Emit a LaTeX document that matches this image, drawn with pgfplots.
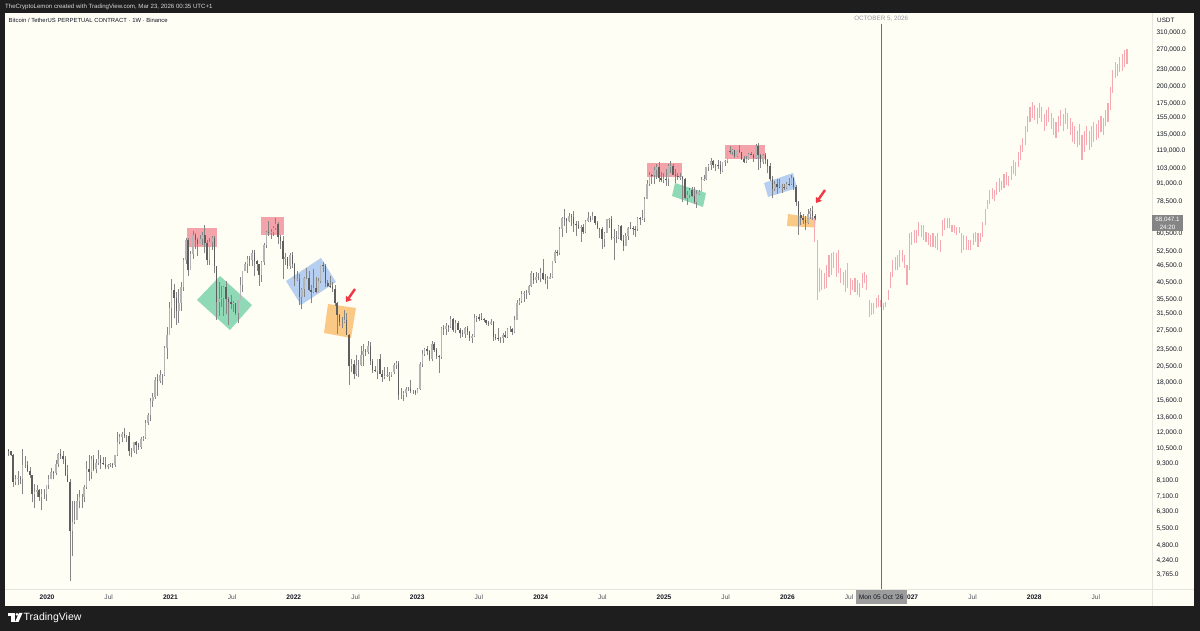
\documentclass[border=0pt]{standalone}
\usepackage{fontspec}
\setmainfont{Liberation Sans}
\usepackage{pgfplots}
\usepackage{pgfplotstable}
\pgfplotsset{compat=1.18}
\usetikzlibrary{arrows.meta}
\definecolor{frame}{HTML}{1E1E1E}
\definecolor{cream}{HTML}{FFFEF5}
\definecolor{wick}{HTML}{858585}
\definecolor{downc}{HTML}{5E5E5E}
\definecolor{upc}{HTML}{B4B4B4}
\definecolor{pinkbar}{HTML}{F5AAB2}
\definecolor{boxred}{HTML}{F4A3AA}
\definecolor{boxgreen}{HTML}{8FD9B6}
\definecolor{boxblue}{HTML}{B6CEF0}
\definecolor{boxorange}{HTML}{FAC985}
\definecolor{arrowred}{HTML}{F23645}
\definecolor{txt}{HTML}{131722}
\definecolor{julc}{HTML}{50535E}
\definecolor{sep}{HTML}{E6E6E0}
\definecolor{octline}{HTML}{707070}
\definecolor{graytxt}{HTML}{9598A1}
\definecolor{datebox}{HTML}{9C9C9C}
\definecolor{pricebox}{HTML}{858585}
\newcommand\tvf{\fontsize{6.6}{7.5}\selectfont}
\pgfplotstableread{
o h l c
10.4 10.5 9.9 10.3
10.3 10.3 9.9 10.0
10.0 10.1 7.7 8.0
8.0 8.5 7.8 8.2
8.2 8.8 7.8 8.3
8.3 8.4 7.9 8.2
8.2 10.5 7.3 9.2
9.2 9.9 9.0 9.2
9.2 9.5 8.7 8.8
8.8 9.1 8.3 8.5
8.5 8.5 6.8 7.3
7.3 7.9 6.5 7.4
7.4 7.8 7.1 7.5
7.5 7.6 6.9 7.1
7.1 7.6 6.4 7.3
7.3 7.6 7.0 7.3
7.3 7.8 6.9 7.8
7.8 8.5 7.6 8.2
8.2 9.0 8.2 8.7
8.7 8.8 8.2 8.6
8.6 9.6 8.5 9.3
9.3 10.2 9.1 10.1
10.1 10.5 9.7 9.9
9.9 10.3 9.3 9.7
9.7 9.9 8.4 8.5
8.5 9.2 8.0 8.0
8.0 8.2 3.6 5.4
5.4 6.9 4.4 5.8
5.8 6.9 5.7 5.9
5.9 7.3 5.9 6.9
6.9 7.5 6.5 7.1
7.1 7.3 6.5 7.1
7.1 7.8 6.8 7.7
7.7 9.5 7.6 8.9
8.9 10.0 8.1 8.7
8.7 9.9 8.2 9.7
9.7 10.0 8.8 8.9
8.9 9.7 8.6 9.4
9.4 10.4 9.2 9.7
9.7 10.0 8.9 9.4
9.4 9.8 9.2 9.3
9.3 9.8 8.9 9.1
9.1 9.3 8.9 9.2
9.2 9.4 9.1 9.3
9.3 9.4 9.0 9.2
9.2 10.0 9.1 10.0
10.0 12.1 9.9 11.1
11.1 11.9 10.9 11.6
11.6 12.1 11.1 11.9
11.9 12.5 11.5 11.7
11.7 11.8 11.1 11.7
11.7 12.1 9.9 10.3
10.3 10.6 9.8 10.3
10.3 11.1 10.2 11.1
11.1 11.2 10.1 10.8
10.8 11.0 10.4 10.7
10.7 11.6 10.5 11.4
11.4 11.7 11.2 11.5
11.5 13.3 11.4 13.0
13.0 14.1 12.8 13.8
13.8 15.9 13.2 15.5
15.5 16.5 14.8 16.0
16.0 18.8 15.8 18.4
18.4 19.4 16.2 18.2
18.2 19.9 18.0 19.2
19.2 19.4 17.6 19.2
19.2 24.3 19.0 23.8
23.8 28.4 21.8 26.5
26.5 34.8 26.5 33.0
33.0 42.0 28.0 38.2
38.2 40.1 30.4 35.8
35.8 37.8 28.8 32.3
32.3 38.5 29.2 34.3
34.3 40.9 32.3 39.2
39.2 49.7 37.9 48.9
48.9 58.3 47.1 57.5
57.5 58.3 43.0 45.2
45.2 52.6 45.0 51.2
51.2 61.8 49.3 59.9
59.9 60.6 53.3 57.4
57.4 58.4 50.4 55.8
55.8 60.1 55.5 58.0
58.0 61.2 55.4 60.0
60.0 64.9 51.5 56.2
56.2 57.3 47.0 49.0
49.0 58.5 47.0 56.6
56.6 59.5 53.0 58.2
58.2 59.6 43.8 46.4
46.4 46.6 30.0 34.7
34.7 40.8 31.0 35.6
35.6 39.4 33.4 35.8
35.8 39.5 31.0 39.1
39.1 41.3 31.6 35.5
35.5 36.1 28.8 34.7
34.7 36.6 32.7 34.1
34.1 35.1 32.1 34.3
34.3 34.3 31.2 31.8
31.8 35.4 29.3 35.4
35.4 42.6 35.2 39.8
39.8 44.7 37.6 44.5
44.5 48.1 44.5 47.1
47.1 50.5 44.0 49.3
49.3 50.5 46.4 48.9
48.9 52.9 46.5 51.8
51.8 52.9 43.0 48.3
48.3 48.8 44.8 47.3
47.3 47.3 39.6 43.2
43.2 48.4 40.8 48.2
48.2 56.0 46.9 55.0
55.0 62.0 53.9 61.5
61.5 67.0 59.5 60.9
60.9 63.0 57.9 61.3
61.3 64.2 59.4 63.2
63.2 69.0 62.3 65.5
65.5 66.3 55.6 59.0
59.0 59.7 53.3 57.2
57.2 59.2 42.0 49.4
49.4 51.9 46.9 50.1
50.1 50.2 45.5 46.7
46.7 51.9 45.5 50.8
50.8 52.1 45.7 47.3
47.3 47.5 39.6 41.9
41.9 44.5 41.2 42.0
42.0 43.5 34.0 36.3
36.3 38.9 32.9 38.5
38.5 42.6 36.3 42.2
42.2 45.8 41.8 42.2
42.2 44.7 38.1 38.4
38.4 39.8 34.3 37.7
37.7 45.4 37.5 38.8
38.8 42.6 37.2 37.8
37.8 42.3 37.6 41.3
41.3 46.9 40.5 46.8
46.8 48.2 44.2 46.4
46.4 47.4 39.2 40.4
40.4 41.5 39.2 39.7
39.7 42.9 39.0 39.4
39.4 40.8 37.6 38.5
38.5 40.0 33.7 34.3
34.3 34.8 26.7 31.3
31.3 31.4 28.6 29.4
29.4 30.6 28.0 29.4
29.4 32.4 29.2 29.9
29.9 31.8 26.5 26.6
26.6 26.8 17.6 20.6
20.6 21.9 19.6 21.0
21.0 21.6 18.6 19.3
19.3 22.5 19.0 20.8
20.8 21.6 18.9 20.8
20.8 24.3 20.7 22.6
22.6 24.7 20.7 23.3
23.3 23.6 22.4 23.2
23.2 25.2 22.7 24.3
24.3 25.0 20.8 21.5
21.5 21.9 19.5 20.0
20.0 20.6 19.6 19.8
19.8 21.9 18.5 21.8
21.8 22.8 19.3 19.4
19.4 19.9 18.1 18.8
18.8 20.4 18.5 19.0
19.0 20.5 18.9 19.1
19.1 19.6 18.2 19.2
19.2 19.7 18.9 19.6
19.6 21.1 19.3 20.8
20.8 21.5 20.1 21.1
21.1 21.5 15.6 16.3
16.3 17.2 15.8 16.3
16.3 16.8 15.5 16.5
16.5 17.4 16.0 17.1
17.1 17.4 16.8 17.1
17.1 18.4 16.5 16.8
16.8 17.0 16.4 16.8
16.8 17.0 16.3 16.6
16.6 17.2 16.5 17.1
17.1 21.3 17.0 20.9
20.9 23.4 20.4 22.7
22.7 23.8 22.3 23.7
23.7 24.2 22.5 23.3
23.3 23.4 21.4 21.8
21.8 25.2 21.4 24.6
24.6 25.1 23.1 23.5
23.5 23.9 21.9 22.4
22.4 22.6 19.5 22.1
22.1 28.4 21.9 28.0
28.0 28.9 26.6 27.9
27.9 29.2 26.5 28.5
28.5 28.8 27.2 28.3
28.3 31.0 28.2 30.3
30.3 30.5 27.1 27.6
27.6 30.0 26.9 29.2
29.2 29.8 27.7 27.7
27.7 28.0 25.8 26.9
26.9 27.6 26.1 26.7
26.7 28.4 25.9 28.0
28.0 28.5 26.6 27.1
27.1 27.4 25.3 25.9
25.9 26.8 24.8 26.3
26.3 31.4 26.2 30.5
30.5 31.0 29.5 30.6
30.6 31.5 29.7 30.3
30.3 31.8 29.9 30.2
30.2 30.4 29.5 29.9
29.9 30.0 28.9 29.3
29.3 29.7 28.6 29.0
29.0 30.2 28.7 29.4
29.4 29.7 25.2 26.1
26.1 26.8 25.4 26.0
26.0 28.2 25.3 25.8
25.8 26.1 24.9 25.8
25.8 27.0 24.9 26.5
26.5 27.5 26.0 26.2
26.2 28.0 26.0 27.9
27.9 28.6 27.2 27.9
27.9 28.0 26.5 27.1
27.1 30.9 26.9 30.0
30.0 35.2 29.9 34.5
34.5 35.9 33.9 35.0
35.0 38.0 34.5 37.1
37.1 38.0 34.8 37.4
37.4 38.4 35.6 37.4
37.4 39.8 36.7 39.5
39.5 44.5 39.3 43.8
43.8 44.0 40.2 41.4
41.4 44.3 40.6 42.7
42.7 43.8 41.4 42.3
42.3 45.9 40.8 43.9
43.9 49.1 41.5 41.7
41.7 43.6 40.3 41.6
41.6 42.8 38.5 42.0
42.0 43.9 41.8 42.6
42.6 48.6 42.2 48.3
48.3 53.0 47.7 52.1
52.1 52.9 50.6 51.7
51.7 64.0 50.9 63.1
63.1 69.2 59.0 68.9
68.9 73.8 64.6 68.4
68.4 68.9 60.8 67.2
67.2 71.8 66.4 69.6
69.6 71.3 64.5 69.4
69.4 72.8 61.1 65.7
65.7 66.9 59.6 64.9
64.9 67.2 62.8 63.4
63.4 64.7 56.6 63.9
63.9 65.5 60.2 61.5
61.5 67.7 60.7 66.9
66.9 71.9 66.6 68.5
68.5 70.0 66.6 67.8
67.8 71.9 67.5 69.6
69.6 70.0 65.0 66.2
66.2 66.9 63.0 63.2
63.2 63.4 58.4 62.7
62.7 63.8 53.5 58.0
58.0 61.4 54.3 60.8
60.8 68.3 60.6 68.0
68.0 69.0 63.4 68.3
68.3 70.0 57.3 58.2
58.2 62.7 49.0 58.7
58.7 61.8 56.1 58.4
58.4 65.0 57.8 64.2
64.2 64.9 57.2 57.3
57.3 59.8 52.6 54.8
54.8 60.7 54.6 59.2
59.2 64.1 57.5 63.6
63.6 66.5 62.7 63.3
63.3 64.5 59.8 63.0
63.0 64.5 58.9 62.8
62.8 69.4 62.1 69.0
69.0 69.5 65.1 68.0
68.0 73.6 67.5 68.7
68.7 81.5 66.8 80.4
80.4 93.5 80.0 90.6
90.6 99.6 89.4 97.9
97.9 98.7 90.8 97.3
97.3 104.0 90.5 101.4
101.4 106.6 94.2 104.5
104.5 108.4 92.2 95.2
95.2 99.9 92.5 93.8
93.8 99.0 91.5 94.7
94.7 102.7 89.3 94.5
94.5 106.4 89.3 104.6
104.6 109.6 99.5 104.8
104.8 106.5 97.7 97.7
97.7 102.5 91.2 96.5
96.5 99.0 94.0 96.1
96.1 99.5 93.4 96.2
96.2 96.5 78.2 94.3
94.3 95.0 80.0 80.7
80.7 85.3 76.6 82.6
82.6 87.5 81.2 86.0
86.0 88.8 81.6 82.4
82.4 88.5 77.1 78.4
78.4 86.1 74.5 83.7
83.7 86.4 83.0 85.2
85.2 95.8 85.1 93.7
93.7 97.9 92.8 94.2
94.2 104.3 93.4 104.1
104.1 106.7 100.7 106.0
106.0 112.0 102.0 109.0
109.0 110.5 103.1 105.6
105.6 106.8 100.4 105.6
105.6 110.4 102.6 105.5
105.5 108.9 98.2 100.9
100.9 108.5 99.6 108.4
108.4 110.5 105.1 109.2
109.2 119.0 107.5 119.0
119.0 123.2 115.7 117.3
117.3 120.2 114.7 119.4
119.4 119.8 111.9 114.2
114.2 119.3 112.6 119.3
119.3 124.5 116.8 117.4
117.4 117.6 110.6 111.2
111.2 113.5 107.3 108.2
108.2 113.4 107.3 111.2
111.2 116.8 110.6 115.3
115.3 117.9 114.4 115.2
115.2 115.4 108.6 112.2
112.2 125.7 111.3 123.5
123.5 126.2 102.0 115.0
115.0 115.9 103.5 108.7
108.7 116.0 106.6 114.5
114.5 116.4 106.3 110.6
110.6 110.8 98.9 104.7
104.7 107.5 93.0 94.2
94.2 96.6 80.6 86.8
86.8 93.0 85.3 90.4
90.4 94.2 83.8 88.4
88.4 94.6 87.5 88.2
88.2 90.3 84.4 88.4
88.4 90.6 86.4 87.8
87.8 91.8 86.8 90.6
90.6 94.8 89.3 90.5
90.5 97.9 90.0 95.0
95.0 96.0 86.0 88.5
88.5 90.0 76.0 78.5
78.5 79.0 60.0 70.5
70.5 72.0 65.0 68.5
68.5 71.0 65.5 67.5
67.5 70.0 62.5 66.0
66.0 74.0 65.5 71.0
71.0 74.5 68.0 72.5
72.5 76.0 67.5 70.0
70.0 71.0 67.8 68.05
}\candles
\pgfplotstableread{
h l
68.8 56.6
57.5 35.3
45.8 37.7
45.0 38.3
44.0 38.6
46.9 39.0
50.9 42.6
51.7 43.3
52.2 45.8
51.7 42.6
53.0 44.0
45.8 40.5
44.3 39.9
45.0 37.7
47.7 39.0
42.2 36.7
41.5 38.3
42.2 37.7
41.5 36.7
40.5 36.1
44.0 39.0
44.3 40.5
43.3 38.3
35.3 30.7
34.4 31.2
34.4 31.6
35.9 33.1
36.7 33.4
35.3 33.4
34.4 32.5
34.7 33.4
38.3 35.3
44.3 39.0
48.8 42.6
50.0 45.0
50.9 45.0
53.0 46.1
53.0 48.0
50.9 45.8
46.9 39.9
60.9 45.0
61.4 55.2
62.4 56.0
62.4 56.0
66.5 59.2
64.9 58.7
64.9 57.5
61.4 56.6
60.9 55.2
59.9 54.3
60.9 54.3
59.2 53.9
60.9 53.0
57.5 52.2
67.7 59.2
68.8 62.4
68.8 63.4
68.8 63.4
64.9 61.4
64.9 60.9
63.9 59.9
63.9 60.9
60.9 51.7
59.9 53.0
59.2 53.0
57.5 53.0
57.5 53.0
60.9 55.2
61.4 56.6
60.9 54.3
60.9 56.6
66.5 58.7
74.2 64.9
79.6 74.2
86 77
88 80
86 79
92 83
95 85
93 86
98 88
100 90
97 89
105 94
110 98
108 97
118 104
125 110
132 118
145 125
158 138
170 150
176 155
172 152
168 148
175 155
170 150
160 140
165 145
170 150
162 142
155 135
150 132
158 138
165 145
160 140
168 148
162 142
155 135
150 128
145 126
140 122
148 125
135 110
140 118
145 125
140 120
145 122
150 128
148 130
152 132
158 138
155 135
165 145
175 150
200 165
230 190
245 215
240 218
255 225
262 228
270 235
272 240
}\proj
\begin{document}
\begin{tikzpicture}
\fill[frame] (0pt,0pt) rectangle (1200pt,631pt);
\begin{scope}[x=1pt, y=-1pt, yshift=631pt]
\fill[cream] (5,13) rectangle (1194,606);
\draw[sep, line width=0.6pt] (5,589) -- (1194,589);
\draw[sep, line width=0.6pt] (1152,13) -- (1152,606);
\fill[boxred] (187,228) rectangle (217,247);
\fill[boxred] (261,217) rectangle (284,235);
\fill[boxgreen] (197,300) -- (220,276) -- (252,305) -- (230,330) -- cycle;
\fill[boxblue] (286,281) -- (321,258) -- (336,282) -- (301,305) -- cycle;
\fill[boxorange] (328,304) -- (356,308) -- (351,338) -- (324,333) -- cycle;
\fill[boxred] (647,163) rectangle (682,177);
\fill[boxgreen] (675,183) -- (706,193) -- (703,207) -- (672,196) -- cycle;
\fill[boxred] (725,145) rectangle (765,159);
\fill[boxblue] (764,183) -- (793,173) -- (797,188) -- (768,197) -- cycle;
\fill[boxorange] (788,214) -- (816,218) -- (815,227.5) -- (787,226) -- cycle;
\end{scope}
\begin{axis}[
  at={(5pt,42pt)}, anchor=south west,
  width=1147pt, height=576pt, scale only axis,
  xmin=2019.6596, xmax=2028.9546,
  ymode=log, ymin=3.360, ymax=364.5,
  axis line style={draw=none},
  tick style={draw=none},
  major tick length=0pt,
  yticklabel pos=right,
  ytick={3.765,4.24,4.8,5.5,6.3,7.1,8.1,9.3,10.5,12,13.6,15.6,18,20.5,23.5,27.5,31.5,35.5,40.5,46.5,52.5,60.5,78.5,91,103,119,135,155,175,200,230,270,310},
  yticklabels={{3,765.0},{4,240.0},{4,800.0},{5,500.0},{6,300.0},{7,100.0},{8,100.0},{9,300.0},{10,500.0},{12,000.0},{13,600.0},{15,600.0},{18,000.0},{20,500.0},{23,500.0},{27,500.0},{31,500.0},{35,500.0},{40,500.0},{46,500.0},{52,500.0},{60,500.0},{78,500.0},{91,000.0},{103,000.0},{119,000.0},{135,000.0},{155,000.0},{175,000.0},{200,000.0},{230,000.0},{270,000.0},{310,000.0}},
  yticklabel style={font=\tvf, text=txt, anchor=west, xshift=1pt},
  xtick={2020,2020.5,2021,2021.5,2022,2022.5,2023,2023.5,2024,2024.5,2025,2025.5,2026,2026.5,2027,2027.5,2028,2028.5},
  xticklabels={\textbf{2020},{\color{julc}Jul},\textbf{2021},{\color{julc}Jul},\textbf{2022},{\color{julc}Jul},\textbf{2023},{\color{julc}Jul},\textbf{2024},{\color{julc}Jul},\textbf{2025},{\color{julc}Jul},\textbf{2026},{\color{julc}Jul},\textbf{2027},{\color{julc}Jul},\textbf{2028},{\color{julc}Jul}},
  xticklabel style={font=\tvf, text=txt, anchor=center, yshift=-8pt},
  clip=true,
]
\addplot[draw=none, mark=none, forget plot,
  error bars/.cd, y dir=plus, y explicit, error mark=none,
  error bar style={draw=wick, line width=0.55pt}]
  table[x expr=2019.688+\coordindex*0.019165, y=l, y error expr=\thisrow{h}-\thisrow{l}] {\candles};
\addplot[draw=none, mark=none, forget plot,
  error bars/.cd, y dir=plus, y explicit, error mark=none,
  error bar style={draw=upc, line width=1.5pt}]
  table[x expr={\thisrow{c}>=\thisrow{o} ? 2019.688+\coordindex*0.019165 : nan}, y=o, y error expr=\thisrow{c}-\thisrow{o}] {\candles};
\addplot[draw=none, mark=none, forget plot,
  error bars/.cd, y dir=plus, y explicit, error mark=none,
  error bar style={draw=downc, line width=1.5pt}]
  table[x expr={\thisrow{c}<\thisrow{o} ? 2019.688+\coordindex*0.019165 : nan}, y=c, y error expr=\thisrow{o}-\thisrow{c}] {\candles};
\addplot[draw=none, mark=none, forget plot,
  error bars/.cd, y dir=plus, y explicit, error mark=none,
  error bar style={draw=pinkbar, line width=1.1pt}]
  table[x expr=2026.222+\coordindex*0.019165, y=l, y error expr=\thisrow{h}-\thisrow{l}] {\proj};
\end{axis}
\begin{scope}[x=1pt, y=-1pt, yshift=631pt]
\node[anchor=west, text=white!85!black, font=\fontsize{6.1}{7}\selectfont, inner sep=0] at (5,6.5) {TheCryptoLemon created with TradingView.com, Mar 23, 2026 00:35 UTC+1};
\node[anchor=west, text=txt, font=\fontsize{5.9}{7}\selectfont, inner sep=0] at (8.5,20.5) {Bitcoin / TetherUS PERPETUAL CONTRACT · 1W · Binance};
\node[text=graytxt, font=\fontsize{6.3}{7}\selectfont, inner sep=0] at (881.2,18.5) {OCTOBER 5, 2026};
\draw[octline, line width=0.8pt] (881.2,24) -- (881.2,589);
\fill[datebox] (855.5,590) rectangle (907,604);
\node[text=txt, font=\tvf, inner sep=0] at (881.2,597) {Mon 05 Oct ’26};
\node[anchor=west, text=txt, font=\fontsize{6.3}{7}\selectfont, inner sep=0] at (1157,20.5) {USDT};
\fill[pricebox] (1152,215.5) rectangle (1183,231);
\node[text=white, font=\fontsize{6.2}{7}\selectfont, inner sep=0] at (1167.5,219.5) {68,047.1};
\node[text=white, font=\fontsize{6.2}{7}\selectfont, inner sep=0] at (1167.5,227.2) {24:20};
\draw[arrowred, line width=2.4pt, -{Triangle[length=5pt, width=7pt]}] (355,289) -- (346,302);
\draw[arrowred, line width=2.4pt, -{Triangle[length=5pt, width=7pt]}] (825,190) -- (816,203);
\fill[white] (8,613) rectangle (14.5,615.8);
\fill[white] (11.2,613) rectangle (14.5,622);
\fill[white] (17,614.4) circle (1.4);
\fill[white] (19,613) -- (22.5,613) -- (18.5,622) -- (15,622) -- cycle;
\node[anchor=west, text=white, font=\fontsize{10.5}{12}\selectfont, inner sep=0] at (23.5,617.6) {TradingView};
\end{scope}
\pgfresetboundingbox
\useasboundingbox (0pt,0pt) rectangle (1200pt,631pt);
\end{tikzpicture}
\end{document}
